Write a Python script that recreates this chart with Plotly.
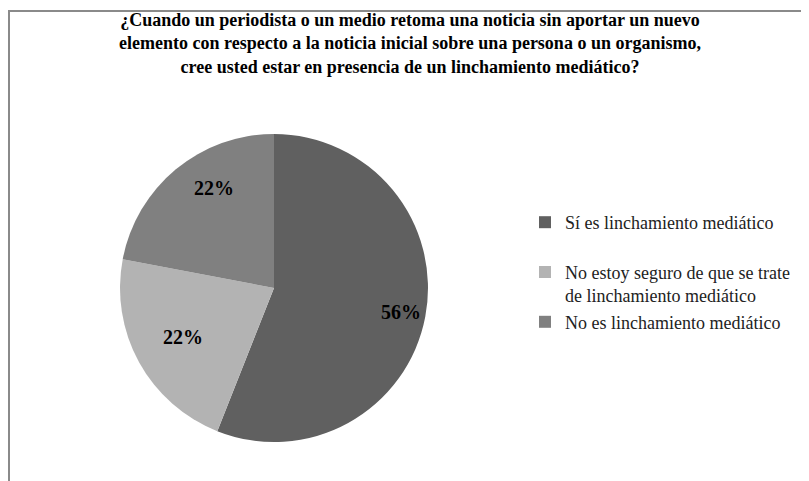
import math
import plotly.graph_objects as go

# Survey answers and shares (percent)
labels = [
    "Sí es linchamiento mediático",
    "No estoy seguro de que se trate<br>de linchamiento mediático",
    "No es linchamiento mediático",
]
values = [56, 22, 22]
colors = ["#606060", "#b3b3b3", "#808080"]

title_lines = [
    "¿Cuando un periodista o un medio retoma una noticia sin aportar un nuevo",
    "elemento con respecto a la noticia inicial sobre una persona o un organismo,",
    "cree usted estar en presencia de un linchamiento mediático?",
]

# page has an 8px body margin, so the figure is 8px smaller than the window
W, H = 801, 473
serif = "Liberation Serif, Times New Roman, serif"

# pie placement (figure pixels)
cx, cy, R = 266, 280, 154

fig = go.Figure()
fig.add_trace(go.Pie(
    labels=[labels[0] + "<br> ", labels[1], labels[2]],  # blank line = legend gap
    values=values,
    sort=False,
    direction="clockwise",
    rotation=0,
    marker=dict(colors=colors, line=dict(width=0)),
    textinfo="none",
    domain=dict(x=[(cx - R) / W, (cx + R) / W], y=[1 - (cy + R) / H, 1 - (cy - R) / H]),
    hoverinfo="percent",
))

# percentage labels near the outer edge of each slice (Excel "inside end" style)
total = sum(values)
start = 0.0
for v in values:
    mid = math.radians((start + v / 2) / total * 360)
    start += v
    dx = 0.84 * R * math.sin(mid)
    dy = -0.84 * R * math.cos(mid)
    fig.add_annotation(
        x=(cx + dx) / W, y=1 - (cy + dy) / H, xref="paper", yref="paper",
        text="<b>%d%%</b>" % round(v / total * 100), showarrow=False,
        font=dict(family=serif, size=20, color="black"),
    )

fig.update_layout(
    width=W, height=H,
    margin=dict(l=0, r=0, t=0, b=0),
    paper_bgcolor="white",
    plot_bgcolor="white",
    title=dict(text="<b>" + "<br>".join(title_lines) + "</b>",
               x=402 / W, xanchor="center", y=1 - 18 / H, yanchor="middle",
               font=dict(family=serif, size=18, color="black")),
    legend=dict(x=517 / W, y=1 - 196 / H, xanchor="left", yanchor="top",
                valign="top",
                font=dict(family=serif, size=18, color="#222222")),
    showlegend=True,
    shapes=[
        # border of the original image (top and left edges)
        dict(type="line", xref="paper", yref="paper", x0=0, x1=1,
             y0=1 - 3 / H, y1=1 - 3 / H, line=dict(color="#8a8a8a", width=2)),
        dict(type="line", xref="paper", yref="paper", x0=1 / W, x1=1 / W,
             y0=0, y1=1 - 2 / H, line=dict(color="#8a8a8a", width=2)),
    ],
)

fig.write_html("out.html")
